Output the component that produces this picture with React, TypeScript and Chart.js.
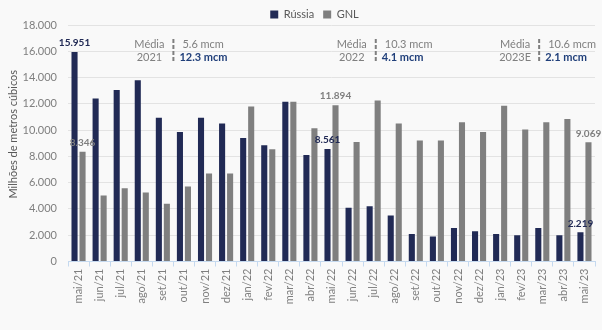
import React, { useEffect, useRef } from 'react';
import { Chart, registerables } from 'chart.js';

Chart.register(...registerables);

const months = ['mai/21','jun/21','jul/21','ago/21','set/21','out/21','nov/21','dez/21','jan/22','fev/22','mar/22','abr/22','mai/22','jun/22','jul/22','ago/22','set/22','out/22','nov/22','dez/22','jan/23','fev/23','mar/23','abr/23','mai/23'];
const russia = [15951,12400,13050,13800,10950,9850,10950,10500,9400,8850,12150,8100,8561,4100,4200,3500,2100,1900,2550,2300,2100,2000,2550,2000,2219];
const gnl = [8346,5030,5570,5250,4400,5700,6700,6700,11800,8550,12150,10150,11894,9100,12250,10500,9200,9200,10600,9850,11850,10050,10600,10850,9069];
const labeledIdx = [0, 12, 24];
const avgYears = ['2021', '2022', '2023E'];
const avgGnl = ['5.6 mcm', '10.3 mcm', '10.6 mcm'];
const avgRussia = ['12.3 mcm', '4.1 mcm', '2.1 mcm'];
const yTicks = [0, 2000, 4000, 6000, 8000, 10000, 12000, 14000, 16000, 18000];
const yTitle = 'Milhões de metros cúbicos';

const NAVY = '#212a55';
const GRAY = '#7f7f7f';
const BLUE_TXT = '#203f7a';
const FONT = 'Lato, "Liberation Sans", sans-serif';

const fmt = (v: number) => String(v).replace(/\B(?=(\d{3})+(?!\d))/g, '.');

const bgPlugin = {
  id: 'bg',
  beforeUpdate(chart: any) {
    const lg = chart.legend;
    if (lg && !lg.__patched) {
      const origFit = lg.fit;
      lg.fit = function () {
        origFit.call(this);
        this.height = 25;
      };
      const origDraw = lg.draw;
      lg.draw = function () {
        const c = this.ctx;
        c.save();
        c.translate(14, 0);
        origDraw.call(this);
        c.restore();
      };
      lg.__patched = true;
    }
  },
  beforeDraw(chart: any) {
    const { ctx, width, height } = chart;
    ctx.save();
    ctx.fillStyle = '#f9f9f9';
    ctx.fillRect(0, 0, width, height);
    ctx.restore();
  },
};

const labelPlugin = {
  id: 'labels',
  afterDatasetsDraw(chart: any) {
    const { ctx } = chart;
    ctx.save();
    ctx.textAlign = 'center';
    ctx.textBaseline = 'bottom';
    ctx.font = `bold 10px ${FONT}`;
    const m0 = chart.getDatasetMeta(0);
    const m1 = chart.getDatasetMeta(1);
    labeledIdx.forEach((i) => {
      const a = m0.data[i];
      ctx.fillStyle = NAVY;
      ctx.fillText(fmt(russia[i]), a.x, a.y - 4);
      const b = m1.data[i];
      ctx.fillStyle = GRAY;
      ctx.fillText(fmt(gnl[i]), b.x, b.y - 4);
    });

    const xs = chart.scales.x;
    const ca = chart.chartArea;
    const top = ca.top;
    const anchors = [4.5, 14.1, 21.85];
    anchors.forEach((pos, k) => {
      const lx = xs.getPixelForValue(pos);
      const y1 = top + 19;
      const y2 = top + 32;
      ctx.textBaseline = 'middle';
      ctx.font = `11px ${FONT}`;
      ctx.fillStyle = GRAY;
      ctx.textAlign = 'center';
      ctx.fillText('Média', lx - 24, y1);
      ctx.fillText(avgYears[k], lx - 24, y2);
      ctx.textAlign = 'left';
      ctx.fillText(avgGnl[k], lx + 9, y1);
      ctx.font = `bold 11px ${FONT}`;
      ctx.fillStyle = BLUE_TXT;
      ctx.fillText(avgRussia[k], lx + 6, y2);
      ctx.strokeStyle = GRAY;
      ctx.lineWidth = 2;
      ctx.setLineDash([4, 2]);
      ctx.beginPath();
      ctx.moveTo(lx, top + 14);
      ctx.lineTo(lx, top + 38);
      ctx.stroke();
      ctx.setLineDash([]);
    });

    ctx.save();
    ctx.translate(13, (ca.top + ca.bottom) / 2 - 9);
    ctx.rotate(-Math.PI / 2);
    ctx.font = `11px ${FONT}`;
    ctx.fillStyle = '#595959';
    ctx.textAlign = 'center';
    ctx.textBaseline = 'middle';
    ctx.fillText(yTitle, 0, 0);
    ctx.restore();
    ctx.restore();
  },
};

export default function App() {
  const ref = useRef<HTMLCanvasElement | null>(null);
  useEffect(() => {
    document.body.style.margin = '0';
    document.body.style.background = '#f9f9f9';
    if (!ref.current) return;
    const chart = new Chart(ref.current, {
      type: 'bar',
      data: {
        labels: months,
        datasets: [
          { label: 'Rússia', data: russia, backgroundColor: NAVY, borderWidth: 0, categoryPercentage: 0.76, barPercentage: 0.76 },
          { label: 'GNL', data: gnl, backgroundColor: GRAY, borderWidth: 0, categoryPercentage: 0.76, barPercentage: 0.76 },
        ],
      },
      options: {
        animation: false,
        responsive: false,
        layout: { padding: { left: 6, right: 7, top: 0, bottom: 23.7 } },
        plugins: {
          legend: {
            position: 'top',
            labels: { boxWidth: 8, boxHeight: 8, padding: 9, color: '#595959', font: { family: FONT, size: 11 } },
          },
          tooltip: { enabled: false },
        },
        scales: {
          x: {
            offset: true,
            grid: { display: true, drawOnChartArea: false, drawTicks: true, tickLength: 5, color: '#c5d9ef', offset: true },
            border: { display: true, color: '#c5d9ef' },
            ticks: { color: GRAY, font: { family: FONT, size: 11 }, maxRotation: 90, minRotation: 90, autoSkip: false, padding: 2 },
          },
          y: {
            min: 0,
            max: 18000,
            afterFit: (s: any) => { s.width = 62; },
            afterBuildTicks: (s: any) => { s.ticks = yTicks.map((v) => ({ value: v })); },
            grid: { color: '#e3e3e3', drawTicks: false },
            border: { display: false },
            ticks: { color: GRAY, font: { family: FONT, size: 11 }, padding: 11, callback: (v: any) => fmt(Number(v)) },
            title: { display: false },
          },
        },
      },
      plugins: [bgPlugin, labelPlugin],
    });
    return () => chart.destroy();
  }, []);
  return (
    <div style={{ width: 602, height: 330, background: '#f9f9f9' }}>
      <canvas ref={ref} width={602} height={330} style={{ width: 602, height: 330, display: 'block' }} />
    </div>
  );
}
